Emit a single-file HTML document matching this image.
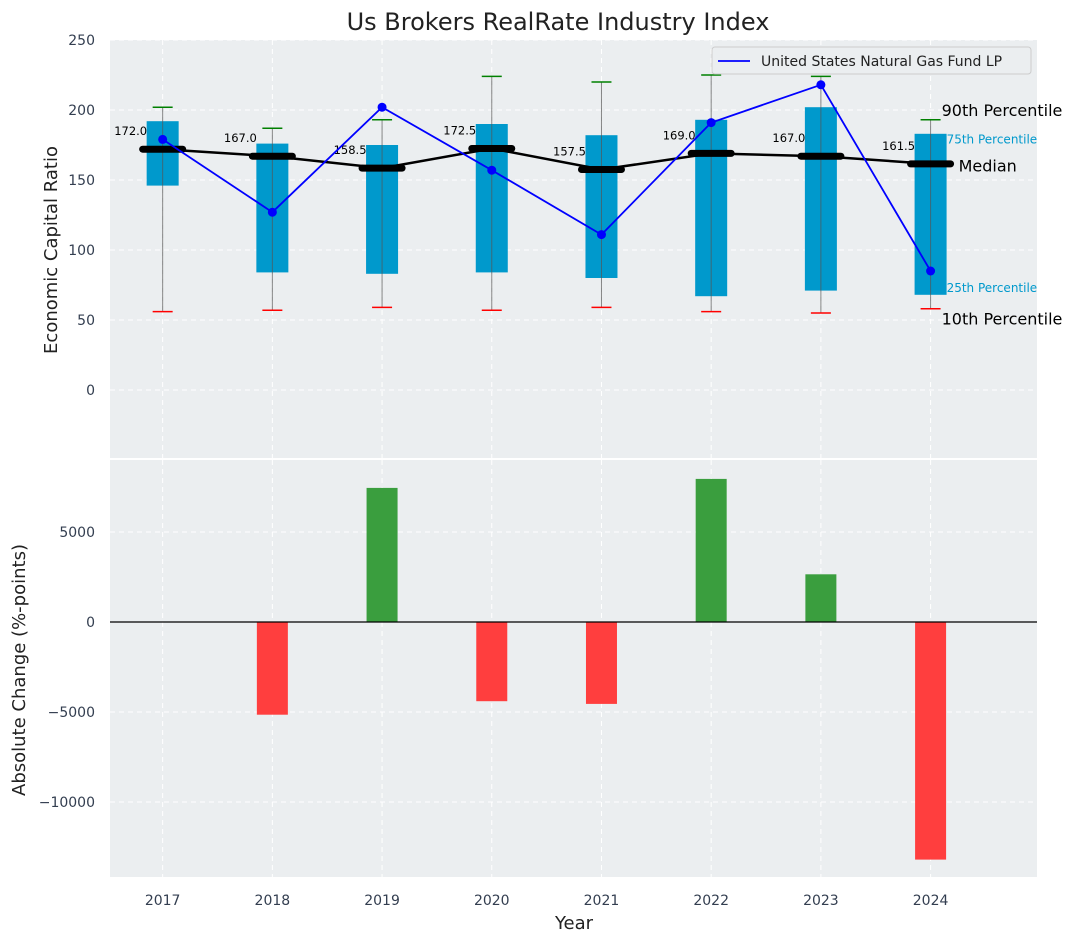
<!DOCTYPE html>
<html><head><meta charset="utf-8"><style>
body{margin:0;background:#fff;font-family:"Liberation Sans","DejaVu Sans",sans-serif}
</style></head><body>
<svg id="c" width="1076" height="942" xmlns="http://www.w3.org/2000/svg" font-family="DejaVu Sans, Liberation Sans, sans-serif"></svg>
<script>
const years=[2017,2018,2019,2020,2021,2022,2023,2024];
const p10=[56,57,59,57,59,56,55,58];
const p25=[146,84,83,84,80,67,71,68];
const med=[172,167,158.5,172.5,157.5,169,167,161.5];
const p75=[192,176,175,190,182,193,202,183];
const p90=[202,187,193,224,220,225,224,193];
const fund=[179,127,202,157,111,191,218,85];
const change=[0,-5150,7450,-4400,-4550,7950,2650,-13200];
const yTicks=[0,50,100,150,200,250];
const bTicks=[-10000,-5000,0,5000];

const S=document.getElementById('c');const NS='http://www.w3.org/2000/svg';
function el(t,a,txt,p){const e=document.createElementNS(NS,t);for(const k in a)e.setAttribute(k,a[k]);if(txt!=null)e.textContent=txt;(p||S).appendChild(e);return e;}
const L=110,R=1037;
const x=v=>L+(v-2016.52)/(2024.97-2016.52)*(R-L);
const y1=v=>390-v*1.4;
const y2=v=>622-v*0.018;
let e;
e=el('text',{x:558,y:30,'text-anchor':'middle','font-size':24,fill:'#222'},'Us Brokers RealRate Industry Index');

e=el('rect',{x:L,y:40,width:R-L,height:418,fill:'#ebeef0'});

e=el('rect',{x:L,y:460,width:R-L,height:417,fill:'#ebeef0'});

for(const t of yTicks){el('line',{x1:L,x2:R,y1:y1(t),y2:y1(t),stroke:'#fff','stroke-dasharray':'5,4'});
e=el('text',{x:95,y:y1(t)+5,'text-anchor':'end','font-size':14,fill:'#333e50'},t);}
for(const t of bTicks){el('line',{x1:L,x2:R,y1:y2(t),y2:y2(t),stroke:'#fff','stroke-dasharray':'5,4'});
e=el('text',{x:95,y:y2(t)+5,'text-anchor':'end','font-size':14,fill:'#333e50'},t===0?'0':String(t).replace('-','−'));}
for(const yr of years){el('line',{x1:x(yr),x2:x(yr),y1:40,y2:458,stroke:'#fff','stroke-dasharray':'5,4'});el('line',{x1:x(yr),x2:x(yr),y1:460,y2:877,stroke:'#fff','stroke-dasharray':'5,4'});
e=el('text',{x:x(yr),y:905,'text-anchor':'middle','font-size':14,fill:'#333e50'},yr);}
years.forEach((yr,i)=>{const cx=x(yr);
e=el('rect',{x:cx-16,y:y1(p75[i]),width:32,height:y1(p25[i])-y1(p75[i]),fill:'#0099cc'});
el('line',{x1:cx,x2:cx,y1:y1(p90[i]),y2:y1(p10[i]),stroke:'#555','stroke-width':1,opacity:0.7});
el('line',{x1:cx-10,x2:cx+10,y1:y1(p90[i]),y2:y1(p90[i]),stroke:'green','stroke-width':1.5});
el('line',{x1:cx-10,x2:cx+10,y1:y1(p10[i]),y2:y1(p10[i]),stroke:'red','stroke-width':1.5});
});
e=el('polyline',{points:years.map((yr,i)=>x(yr)+','+y1(med[i])).join(' '),fill:'none',stroke:'#000','stroke-width':2.5});
years.forEach((yr,i)=>{const cx=x(yr);
e=el('line',{x1:cx-20,x2:cx+20,y1:y1(med[i]),y2:y1(med[i]),stroke:'#000','stroke-width':7,'stroke-linecap':'round'});
e=el('text',{x:cx-32,y:y1(med[i])-14,'text-anchor':'middle','font-size':11.5,fill:'#000'},med[i].toFixed(1));});
e=el('polyline',{points:years.map((yr,i)=>x(yr)+','+y1(fund[i])).join(' '),fill:'none',stroke:'#0000ff','stroke-width':1.8});
years.forEach((yr,i)=>{e=el('circle',{cx:x(yr),cy:y1(fund[i]),r:4.5,fill:'#0000ff'});});
const ax=x(2024)+11;
[['90th Percentile',p90[7]+7,16,'#000',ax],['75th Percentile',p75[7]-4,12,'#0099cc',ax+5],['Median',med[7]-1,16,'#000',x(2024)+28],['25th Percentile',p25[7]+5,12,'#0099cc',ax+5],['10th Percentile',p10[7]-7,16,'#000',ax]].forEach(a=>{
e=el('text',{x:a[4],y:y1(a[1])+(a[2]===12?4:6),'font-size':a[2],fill:a[3]},a[0]);});
const g=el('g',{});
el('rect',{x:712,y:47,width:319,height:27,rx:3,fill:'#ebeef0',stroke:'#ccc'},null,g);
el('line',{x1:718,x2:750,y1:61,y2:61,stroke:'#0000ff','stroke-width':1.8},null,g);
el('text',{x:761,y:66,'font-size':14,fill:'#222'},'United States Natural Gas Fund LP',g);
years.forEach((yr,i)=>{if(!change[i])return;const v=change[i];
e=el('rect',{x:x(yr)-15.5,y:Math.min(y2(v),y2(0)),width:31,height:Math.abs(y2(v)-y2(0)),fill:v>0?'#3a9e3e':'#ff3e3e'});});
el('line',{x1:L,x2:R,y1:y2(0),y2:y2(0),stroke:'#000','stroke-width':1.2});
e=el('text',{x:0,y:0,transform:'translate(57,250) rotate(-90)','text-anchor':'middle','font-size':18,fill:'#222'},'Economic Capital Ratio');
e=el('text',{x:0,y:0,transform:'translate(25,670) rotate(-90)','text-anchor':'middle','font-size':18,fill:'#222'},'Absolute Change (%-points)');
e=el('text',{x:574,y:929,'text-anchor':'middle','font-size':18,fill:'#222'},'Year');
</script>
</body></html>
